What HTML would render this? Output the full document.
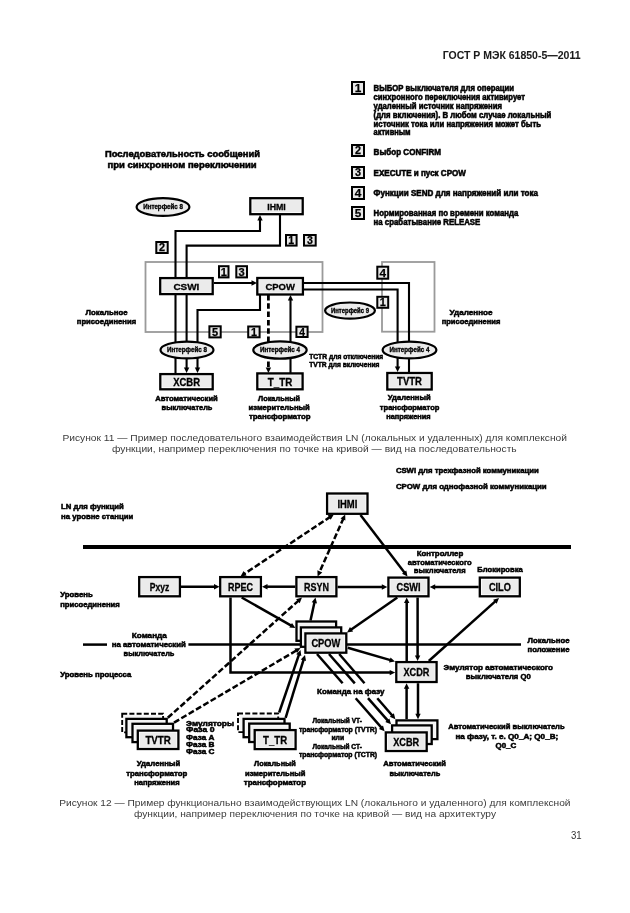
<!DOCTYPE html>
<html><head><meta charset="utf-8"><style>
html,body{margin:0;padding:0;background:#fff;width:630px;height:913px;overflow:hidden}
svg{display:block;font-family:"Liberation Sans",sans-serif;will-change:transform}
</style></head><body>
<svg width="630" height="913" viewBox="0 0 630 913">
<text x="442.7" y="59.0" font-size="11" font-weight="bold" textLength="137.8" lengthAdjust="spacingAndGlyphs" fill="#1a1a1a" stroke="#000" stroke-width="0.05">ГОСТ Р МЭК 61850-5—2011</text>
<rect x="352.0" y="82.0" width="12.0" height="12.0" fill="#e8e8e8" stroke="#000" stroke-width="2.0"/>
<text x="358.0" y="92.2" font-size="11.8" font-weight="bold" text-anchor="middle" stroke="#000" stroke-width="0.25">1</text>
<text x="373.6" y="91.0" font-size="8.5" font-weight="bold" textLength="140.4" lengthAdjust="spacingAndGlyphs" fill="#000" stroke="#000" stroke-width="0.55">ВЫБОР выключателя для операции</text>
<text x="373.6" y="99.9" font-size="8.5" font-weight="bold" textLength="151.4" lengthAdjust="spacingAndGlyphs" fill="#000" stroke="#000" stroke-width="0.55">синхронного переключения активирует</text>
<text x="373.6" y="108.8" font-size="8.5" font-weight="bold" textLength="128.4" lengthAdjust="spacingAndGlyphs" fill="#000" stroke="#000" stroke-width="0.55">удаленный источник напряжения</text>
<text x="373.6" y="117.6" font-size="8.5" font-weight="bold" textLength="177.7" lengthAdjust="spacingAndGlyphs" fill="#000" stroke="#000" stroke-width="0.55">(для включения). В любом случае локальный</text>
<text x="373.6" y="126.5" font-size="8.5" font-weight="bold" textLength="167.4" lengthAdjust="spacingAndGlyphs" fill="#000" stroke="#000" stroke-width="0.55">источник тока или напряжения может быть</text>
<text x="373.6" y="135.4" font-size="8.5" font-weight="bold" textLength="37.0" lengthAdjust="spacingAndGlyphs" fill="#000" stroke="#000" stroke-width="0.55">активным</text>
<rect x="352.0" y="145.0" width="12.0" height="11.0" fill="#e8e8e8" stroke="#000" stroke-width="2.0"/>
<text x="358.0" y="154.4" font-size="10.9" font-weight="bold" text-anchor="middle" stroke="#000" stroke-width="0.25">2</text>
<text x="373.6" y="154.5" font-size="8.5" font-weight="bold" textLength="67.4" lengthAdjust="spacingAndGlyphs" fill="#000" stroke="#000" stroke-width="0.55">Выбор CONFIRM</text>
<rect x="352.0" y="167.0" width="12.0" height="11.0" fill="#e8e8e8" stroke="#000" stroke-width="2.0"/>
<text x="358.0" y="176.4" font-size="10.9" font-weight="bold" text-anchor="middle" stroke="#000" stroke-width="0.25">3</text>
<text x="373.6" y="175.5" font-size="8.5" font-weight="bold" textLength="92.3" lengthAdjust="spacingAndGlyphs" fill="#000" stroke="#000" stroke-width="0.55">EXECUTE и пуск CPOW</text>
<rect x="352.0" y="187.0" width="12.0" height="12.0" fill="#e8e8e8" stroke="#000" stroke-width="2.0"/>
<text x="358.0" y="197.2" font-size="11.8" font-weight="bold" text-anchor="middle" stroke="#000" stroke-width="0.25">4</text>
<text x="373.6" y="196.0" font-size="8.5" font-weight="bold" textLength="164.4" lengthAdjust="spacingAndGlyphs" fill="#000" stroke="#000" stroke-width="0.55">Функции SEND для напряжений или тока</text>
<rect x="352.0" y="207.0" width="12.0" height="12.0" fill="#e8e8e8" stroke="#000" stroke-width="2.0"/>
<text x="358.0" y="217.2" font-size="11.8" font-weight="bold" text-anchor="middle" stroke="#000" stroke-width="0.25">5</text>
<text x="373.6" y="215.5" font-size="8.5" font-weight="bold" textLength="144.7" lengthAdjust="spacingAndGlyphs" fill="#000" stroke="#000" stroke-width="0.55">Нормированная по времени команда</text>
<text x="373.6" y="225.0" font-size="8.5" font-weight="bold" textLength="106.7" lengthAdjust="spacingAndGlyphs" fill="#000" stroke="#000" stroke-width="0.55">на срабатывание RELEASE</text>
<text x="105.0" y="157.0" font-size="9.5" font-weight="bold" textLength="155.0" lengthAdjust="spacingAndGlyphs" fill="#000" stroke="#000" stroke-width="0.55">Последовательность сообщений</text>
<text x="107.5" y="168.0" font-size="9.5" font-weight="bold" textLength="149.2" lengthAdjust="spacingAndGlyphs" fill="#000" stroke="#000" stroke-width="0.55">при синхронном переключении</text>
<rect x="145.5" y="262" width="177" height="70" fill="none" stroke="#9a9a9a" stroke-width="1.8"/>
<rect x="382" y="262" width="52.5" height="69.7" fill="none" stroke="#9a9a9a" stroke-width="1.8"/>
<polyline points="175.5,277.0 175.5,231.0 260.0,231.0 260.0,218.8" fill="none" stroke="#000" stroke-width="2.1" stroke-linejoin="miter" stroke-linecap="butt"/>
<polygon points="260.0,215.0 262.7,220.5 257.3,220.5" fill="#000"/>
<polyline points="175.5,295.0 175.5,373.0" fill="none" stroke="#000" stroke-width="2.1" stroke-linejoin="miter" stroke-linecap="butt"/>
<polyline points="280.0,215.0 280.0,245.6 186.6,245.6 186.6,277.0" fill="none" stroke="#000" stroke-width="2.1" stroke-linejoin="miter" stroke-linecap="butt"/>
<polyline points="186.6,295.0 186.6,369.1" fill="none" stroke="#000" stroke-width="2.1" stroke-linejoin="miter" stroke-linecap="butt"/>
<polygon points="186.6,373.0 183.9,367.5 189.3,367.5" fill="#000"/>
<polyline points="214.0,283.0 253.2,283.0" fill="none" stroke="#000" stroke-width="2.1" stroke-linejoin="miter" stroke-linecap="butt"/>
<polygon points="257.0,283.0 251.5,285.7 251.5,280.3" fill="#000"/>
<polyline points="260.0,295.0 260.0,310.0 197.5,310.0 197.5,369.1" fill="none" stroke="#000" stroke-width="2.1" stroke-linejoin="miter" stroke-linecap="butt"/>
<polygon points="197.5,373.0 194.8,367.5 200.2,367.5" fill="#000"/>
<polyline points="268.4,295.0 268.4,369.1" fill="none" stroke="#000" stroke-width="2.8" stroke-dasharray="5.5,2.8" stroke-linejoin="miter" stroke-linecap="butt"/>
<polygon points="268.4,373.0 265.7,367.5 271.1,367.5" fill="#000"/>
<polyline points="290.5,373.0 290.5,298.9" fill="none" stroke="#000" stroke-width="2.1" stroke-linejoin="miter" stroke-linecap="butt"/>
<polygon points="290.5,295.0 293.2,300.5 287.8,300.5" fill="#000"/>
<polyline points="303.0,283.0 409.0,283.0 409.0,372.0" fill="none" stroke="#000" stroke-width="2.1" stroke-linejoin="miter" stroke-linecap="butt"/>
<polyline points="303.0,289.5 397.6,289.5 397.6,368.1" fill="none" stroke="#000" stroke-width="2.1" stroke-linejoin="miter" stroke-linecap="butt"/>
<polygon points="397.6,372.0 394.9,366.5 400.3,366.5" fill="#000"/>
<ellipse cx="163" cy="207" rx="26.4" ry="8.9" fill="#ececec" stroke="#000" stroke-width="2.2"/>
<text x="143.2" y="209.4" font-size="6.8" font-weight="bold" textLength="39.7" lengthAdjust="spacingAndGlyphs" stroke="#000" stroke-width="0.35">Интерфейс 8</text>
<ellipse cx="187" cy="350" rx="26.5" ry="8.4" fill="#ececec" stroke="#000" stroke-width="2.2"/>
<text x="167.0" y="352.4" font-size="6.8" font-weight="bold" textLength="40.0" lengthAdjust="spacingAndGlyphs" stroke="#000" stroke-width="0.35">Интерфейс 8</text>
<ellipse cx="280" cy="350" rx="26.7" ry="8.6" fill="#ececec" stroke="#000" stroke-width="2.2"/>
<text x="260.0" y="352.4" font-size="6.8" font-weight="bold" textLength="40.0" lengthAdjust="spacingAndGlyphs" stroke="#000" stroke-width="0.35">Интерфейс 4</text>
<ellipse cx="350" cy="310.6" rx="24.9" ry="8.1" fill="#ececec" stroke="#000" stroke-width="2.2"/>
<text x="331.0" y="313.0" font-size="6.8" font-weight="bold" textLength="38.0" lengthAdjust="spacingAndGlyphs" stroke="#000" stroke-width="0.35">Интерфейс 9</text>
<ellipse cx="409.5" cy="350" rx="26.9" ry="8.4" fill="#ececec" stroke="#000" stroke-width="2.2"/>
<text x="389.5" y="352.4" font-size="6.8" font-weight="bold" textLength="40.0" lengthAdjust="spacingAndGlyphs" stroke="#000" stroke-width="0.35">Интерфейс 4</text>
<rect x="250.3" y="198.2" width="52.4" height="16.0" fill="#fff" stroke="#000" stroke-width="2.3"/>
<rect x="252.3" y="200.1" width="48.5" height="12.1" fill="#ebebeb"/>
<text x="267.2" y="209.6" font-size="9.5" font-weight="bold" textLength="18.6" lengthAdjust="spacingAndGlyphs" stroke="#000" stroke-width="0.3">IHMI</text>
<rect x="160.2" y="278.1" width="52.5" height="16.0" fill="#fff" stroke="#000" stroke-width="2.3"/>
<rect x="162.1" y="280.1" width="48.6" height="12.1" fill="#ebebeb"/>
<text x="173.4" y="290.2" font-size="9.8" font-weight="bold" textLength="26.0" lengthAdjust="spacingAndGlyphs" stroke="#000" stroke-width="0.3">CSWI</text>
<rect x="257.3" y="278.0" width="45.6" height="16.5" fill="#fff" stroke="#000" stroke-width="2.3"/>
<rect x="259.3" y="280.0" width="41.7" height="12.6" fill="#ebebeb"/>
<text x="265.4" y="289.5" font-size="9.8" font-weight="bold" textLength="29.5" lengthAdjust="spacingAndGlyphs" stroke="#000" stroke-width="0.3">CPOW</text>
<rect x="160.3" y="374.1" width="52.4" height="15.2" fill="#fff" stroke="#000" stroke-width="2.3"/>
<rect x="162.3" y="376.1" width="48.5" height="11.3" fill="#ebebeb"/>
<text x="173.2" y="385.5" font-size="10.5" font-weight="bold" textLength="26.8" lengthAdjust="spacingAndGlyphs" stroke="#000" stroke-width="0.3">XCBR</text>
<rect x="257.3" y="373.4" width="45.3" height="15.9" fill="#fff" stroke="#000" stroke-width="2.3"/>
<rect x="259.3" y="375.4" width="41.4" height="12.0" fill="#ebebeb"/>
<text x="267.8" y="386.2" font-size="10.5" font-weight="bold" textLength="24.4" lengthAdjust="spacingAndGlyphs" stroke="#000" stroke-width="0.3">T_TR</text>
<rect x="387.3" y="373.0" width="44.4" height="16.5" fill="#fff" stroke="#000" stroke-width="2.3"/>
<rect x="389.3" y="375.0" width="40.5" height="12.6" fill="#ebebeb"/>
<text x="397.1" y="385.2" font-size="10.8" font-weight="bold" textLength="24.8" lengthAdjust="spacingAndGlyphs" stroke="#000" stroke-width="0.3">TVTR</text>
<rect x="156.3" y="242.0" width="11.4" height="11.0" fill="#e8e8e8" stroke="#000" stroke-width="2.0"/>
<text x="162.0" y="251.4" font-size="10.9" font-weight="bold" text-anchor="middle" stroke="#000" stroke-width="0.25">2</text>
<rect x="286.0" y="235.0" width="10.6" height="10.6" fill="#e8e8e8" stroke="#000" stroke-width="2.0"/>
<text x="291.3" y="244.1" font-size="10.6" font-weight="bold" text-anchor="middle" stroke="#000" stroke-width="0.25">1</text>
<rect x="304.0" y="235.0" width="11.7" height="10.6" fill="#e8e8e8" stroke="#000" stroke-width="2.0"/>
<text x="309.9" y="244.1" font-size="10.6" font-weight="bold" text-anchor="middle" stroke="#000" stroke-width="0.25">3</text>
<rect x="219.0" y="266.2" width="9.5" height="11.2" fill="#e8e8e8" stroke="#000" stroke-width="2.0"/>
<text x="223.8" y="275.8" font-size="11.1" font-weight="bold" text-anchor="middle" stroke="#000" stroke-width="0.25">1</text>
<rect x="236.3" y="266.2" width="10.7" height="11.2" fill="#e8e8e8" stroke="#000" stroke-width="2.0"/>
<text x="241.7" y="275.8" font-size="11.1" font-weight="bold" text-anchor="middle" stroke="#000" stroke-width="0.25">3</text>
<rect x="209.4" y="326.3" width="11.3" height="11.1" fill="#e8e8e8" stroke="#000" stroke-width="2.0"/>
<text x="215.1" y="335.8" font-size="11.0" font-weight="bold" text-anchor="middle" stroke="#000" stroke-width="0.25">5</text>
<rect x="248.2" y="326.5" width="11.4" height="10.8" fill="#e8e8e8" stroke="#000" stroke-width="2.0"/>
<text x="253.9" y="335.8" font-size="10.8" font-weight="bold" text-anchor="middle" stroke="#000" stroke-width="0.25">1</text>
<rect x="296.4" y="326.7" width="11.2" height="10.3" fill="#e8e8e8" stroke="#000" stroke-width="2.0"/>
<text x="302.0" y="335.6" font-size="10.3" font-weight="bold" text-anchor="middle" stroke="#000" stroke-width="0.25">4</text>
<rect x="377.3" y="266.7" width="10.9" height="12.0" fill="#e8e8e8" stroke="#000" stroke-width="2.0"/>
<text x="382.8" y="276.9" font-size="11.8" font-weight="bold" text-anchor="middle" stroke="#000" stroke-width="0.25">4</text>
<rect x="377.3" y="296.8" width="10.9" height="11.0" fill="#e8e8e8" stroke="#000" stroke-width="2.0"/>
<text x="382.8" y="306.2" font-size="10.9" font-weight="bold" text-anchor="middle" stroke="#000" stroke-width="0.25">1</text>
<text x="85.5" y="314.6" font-size="8" font-weight="bold" textLength="42.0" lengthAdjust="spacingAndGlyphs" fill="#000" stroke="#000" stroke-width="0.55">Локальное</text>
<text x="76.8" y="324.0" font-size="8" font-weight="bold" textLength="59.3" lengthAdjust="spacingAndGlyphs" fill="#000" stroke="#000" stroke-width="0.55">присоединения</text>
<text x="449.5" y="314.6" font-size="8" font-weight="bold" textLength="43.0" lengthAdjust="spacingAndGlyphs" fill="#000" stroke="#000" stroke-width="0.55">Удаленное</text>
<text x="441.7" y="324.0" font-size="8" font-weight="bold" textLength="58.6" lengthAdjust="spacingAndGlyphs" fill="#000" stroke="#000" stroke-width="0.55">присоединения</text>
<text x="155.2" y="400.9" font-size="8" font-weight="bold" textLength="62.6" lengthAdjust="spacingAndGlyphs" fill="#000" stroke="#000" stroke-width="0.55">Автоматический</text>
<text x="161.6" y="409.8" font-size="8" font-weight="bold" textLength="50.8" lengthAdjust="spacingAndGlyphs" fill="#000" stroke="#000" stroke-width="0.55">выключатель</text>
<text x="258.0" y="400.9" font-size="8" font-weight="bold" textLength="42.0" lengthAdjust="spacingAndGlyphs" fill="#000" stroke="#000" stroke-width="0.55">Локальный</text>
<text x="248.6" y="409.8" font-size="8" font-weight="bold" textLength="61.2" lengthAdjust="spacingAndGlyphs" fill="#000" stroke="#000" stroke-width="0.55">измерительный</text>
<text x="249.0" y="418.6" font-size="8" font-weight="bold" textLength="61.5" lengthAdjust="spacingAndGlyphs" fill="#000" stroke="#000" stroke-width="0.55">трансформатор</text>
<text x="387.8" y="400.4" font-size="8" font-weight="bold" textLength="42.8" lengthAdjust="spacingAndGlyphs" fill="#000" stroke="#000" stroke-width="0.55">Удаленный</text>
<text x="379.8" y="409.6" font-size="8" font-weight="bold" textLength="59.6" lengthAdjust="spacingAndGlyphs" fill="#000" stroke="#000" stroke-width="0.55">трансформатор</text>
<text x="386.2" y="418.6" font-size="8" font-weight="bold" textLength="44.4" lengthAdjust="spacingAndGlyphs" fill="#000" stroke="#000" stroke-width="0.55">напряжения</text>
<text x="309.2" y="359.0" font-size="8" font-weight="bold" textLength="74.1" lengthAdjust="spacingAndGlyphs" fill="#000" stroke="#000" stroke-width="0.55">TCTR для отключения</text>
<text x="309.2" y="367.4" font-size="8" font-weight="bold" textLength="70.2" lengthAdjust="spacingAndGlyphs" fill="#000" stroke="#000" stroke-width="0.55">TVTR для включения</text>
<text x="62.5" y="441.0" font-size="9.4" font-weight="normal" textLength="504.5" lengthAdjust="spacingAndGlyphs" fill="#3a3a3a">Рисунок 11 — Пример последовательного взаимодействия LN (локальных и удаленных) для комплексной</text>
<text x="112.0" y="452.2" font-size="9.4" font-weight="normal" textLength="404.7" lengthAdjust="spacingAndGlyphs" fill="#3a3a3a">функции, например переключения по точке на кривой — вид на последовательность</text>
<text x="395.9" y="472.8" font-size="8" font-weight="bold" textLength="142.8" lengthAdjust="spacingAndGlyphs" fill="#000" stroke="#000" stroke-width="0.55">CSWI для трехфазной коммуникации</text>
<text x="395.9" y="489.3" font-size="8" font-weight="bold" textLength="150.8" lengthAdjust="spacingAndGlyphs" fill="#000" stroke="#000" stroke-width="0.55">CPOW для однофазной коммуникации</text>
<text x="61.1" y="508.5" font-size="8" font-weight="bold" textLength="62.6" lengthAdjust="spacingAndGlyphs" fill="#000" stroke="#000" stroke-width="0.55">LN для функций</text>
<text x="61.1" y="518.6" font-size="8" font-weight="bold" textLength="72.1" lengthAdjust="spacingAndGlyphs" fill="#000" stroke="#000" stroke-width="0.55">на уровне станции</text>
<rect x="83" y="545" width="488" height="4" fill="#000"/>
<polyline points="181.0,586.7 215.7,586.7" fill="none" stroke="#000" stroke-width="2.5" stroke-linejoin="miter" stroke-linecap="butt"/>
<polygon points="219.5,586.7 214.0,589.4 214.0,584.0" fill="#000"/>
<polyline points="295.3,586.7 265.9,586.7" fill="none" stroke="#000" stroke-width="2.5" stroke-linejoin="miter" stroke-linecap="butt"/>
<polygon points="262.0,586.7 267.5,584.0 267.5,589.4" fill="#000"/>
<polyline points="337.6,587.0 383.4,587.0" fill="none" stroke="#000" stroke-width="2.5" stroke-linejoin="miter" stroke-linecap="butt"/>
<polygon points="387.3,587.0 381.8,589.7 381.8,584.3" fill="#000"/>
<polyline points="478.7,587.0 433.6,587.0" fill="none" stroke="#000" stroke-width="2.5" stroke-linejoin="miter" stroke-linecap="butt"/>
<polygon points="429.7,587.0 435.2,584.3 435.2,589.7" fill="#000"/>
<polyline points="360.5,515.0 405.2,573.4" fill="none" stroke="#000" stroke-width="2.5" stroke-linejoin="miter" stroke-linecap="butt"/>
<polygon points="407.5,576.5 402.0,573.8 406.3,570.5" fill="#000"/>
<polyline points="330.6,516.6 243.7,574.3" fill="none" stroke="#000" stroke-width="2.5" stroke-dasharray="6,2.5" stroke-linejoin="miter" stroke-linecap="butt"/>
<polygon points="240.5,576.4 243.6,571.1 246.6,575.6" fill="#000"/>
<polygon points="333.8,514.5 330.7,519.8 327.7,515.3" fill="#000"/>
<polyline points="343.6,518.0 319.2,572.9" fill="none" stroke="#000" stroke-width="2.5" stroke-dasharray="6,2.5" stroke-linejoin="miter" stroke-linecap="butt"/>
<polygon points="317.6,576.4 317.4,570.3 322.3,572.5" fill="#000"/>
<polygon points="345.2,514.5 345.4,520.6 340.5,518.4" fill="#000"/>
<polyline points="230.5,597.5 230.5,672.6 391.3,672.6" fill="none" stroke="#000" stroke-width="2.5" stroke-linejoin="miter" stroke-linecap="butt"/>
<polygon points="395.2,672.6 389.7,675.3 389.7,669.9" fill="#000"/>
<polyline points="241.7,597.5 292.1,626.1" fill="none" stroke="#000" stroke-width="2.5" stroke-linejoin="miter" stroke-linecap="butt"/>
<polygon points="295.4,628.0 289.3,627.6 292.0,622.9" fill="#000"/>
<polyline points="310.5,620.4 314.7,601.3" fill="none" stroke="#000" stroke-width="2.5" stroke-linejoin="miter" stroke-linecap="butt"/>
<polygon points="315.5,597.5 317.0,603.4 311.7,602.3" fill="#000"/>
<polyline points="397.3,597.5 350.2,630.3" fill="none" stroke="#000" stroke-width="2.5" stroke-linejoin="miter" stroke-linecap="butt"/>
<polygon points="347.0,632.5 350.0,627.1 353.1,631.6" fill="#000"/>
<polyline points="406.7,661.0 406.7,601.4" fill="none" stroke="#000" stroke-width="2.5" stroke-linejoin="miter" stroke-linecap="butt"/>
<polygon points="406.7,597.5 409.4,603.0 404.0,603.0" fill="#000"/>
<polyline points="417.6,597.5 417.6,657.1" fill="none" stroke="#000" stroke-width="2.5" stroke-linejoin="miter" stroke-linecap="butt"/>
<polygon points="417.6,661.0 414.9,655.5 420.3,655.5" fill="#000"/>
<polyline points="428.8,661.0 496.1,600.6" fill="none" stroke="#000" stroke-width="2.5" stroke-linejoin="miter" stroke-linecap="butt"/>
<polygon points="499.0,598.0 496.7,603.7 493.1,599.7" fill="#000"/>
<polyline points="83.0,644.6 107.0,644.6" fill="none" stroke="#000" stroke-width="2.5" stroke-linejoin="miter" stroke-linecap="butt"/>
<polyline points="188.4,644.6 521.0,644.6" fill="none" stroke="#000" stroke-width="2.5" stroke-linejoin="miter" stroke-linecap="butt"/>
<polyline points="347.8,647.8 391.3,660.4" fill="none" stroke="#000" stroke-width="2.5" stroke-linejoin="miter" stroke-linecap="butt"/>
<polygon points="395.0,661.5 389.0,662.6 390.5,657.4" fill="#000"/>
<polyline points="406.6,719.2 406.6,687.1" fill="none" stroke="#000" stroke-width="2.5" stroke-linejoin="miter" stroke-linecap="butt"/>
<polygon points="406.6,683.2 409.3,688.7 403.9,688.7" fill="#000"/>
<polyline points="418.0,683.2 418.0,715.4" fill="none" stroke="#000" stroke-width="2.5" stroke-linejoin="miter" stroke-linecap="butt"/>
<polygon points="418.0,719.2 415.3,713.7 420.7,713.7" fill="#000"/>
<polyline points="167.8,717.8 299.1,600.1" fill="none" stroke="#000" stroke-width="2.5" stroke-dasharray="6,2.5" stroke-linejoin="miter" stroke-linecap="butt"/>
<polygon points="302.0,597.5 299.7,603.2 296.1,599.2" fill="#000"/>
<polyline points="174.0,722.6 297.2,650.0" fill="none" stroke="#000" stroke-width="2.5" stroke-dasharray="6,2.5" stroke-linejoin="miter" stroke-linecap="butt"/>
<polygon points="300.5,648.0 297.1,653.1 294.4,648.5" fill="#000"/>
<polyline points="279.2,712.5 299.3,653.6" fill="none" stroke="#000" stroke-width="2.5" stroke-linejoin="miter" stroke-linecap="butt"/>
<polygon points="300.5,650.0 301.3,656.1 296.2,654.3" fill="#000"/>
<polyline points="285.6,717.8 303.9,658.7" fill="none" stroke="#000" stroke-width="2.5" stroke-linejoin="miter" stroke-linecap="butt"/>
<polygon points="305.0,655.0 306.0,661.1 300.8,659.5" fill="#000"/>
<polyline points="317.0,654.0 342.6,683.3" fill="none" stroke="#000" stroke-width="2.5" stroke-linejoin="miter" stroke-linecap="butt"/>
<polyline points="355.7,698.2 382.1,728.4" fill="none" stroke="#000" stroke-width="2.5" stroke-linejoin="miter" stroke-linecap="butt"/>
<polygon points="384.6,731.3 378.9,728.9 383.0,725.4" fill="#000"/>
<polyline points="329.0,654.0 354.8,683.3" fill="none" stroke="#000" stroke-width="2.5" stroke-linejoin="miter" stroke-linecap="butt"/>
<polyline points="368.0,698.2 388.5,721.4" fill="none" stroke="#000" stroke-width="2.5" stroke-linejoin="miter" stroke-linecap="butt"/>
<polygon points="391.0,724.3 385.3,722.0 389.4,718.4" fill="#000"/>
<polyline points="339.2,654.0 364.5,683.3" fill="none" stroke="#000" stroke-width="2.5" stroke-linejoin="miter" stroke-linecap="butt"/>
<polyline points="377.3,698.2 392.9,716.3" fill="none" stroke="#000" stroke-width="2.5" stroke-linejoin="miter" stroke-linecap="butt"/>
<polygon points="395.4,719.2 389.8,716.8 393.9,713.3" fill="#000"/>
<rect x="327.1" y="493.5" width="40.4" height="20.3" fill="#fff" stroke="#000" stroke-width="2.3"/>
<rect x="329.1" y="495.5" width="36.5" height="16.4" fill="#ebebeb"/>
<text x="337.4" y="507.6" font-size="10.8" font-weight="bold" textLength="20.0" lengthAdjust="spacingAndGlyphs" stroke="#000" stroke-width="0.3">IHMI</text>
<rect x="139.2" y="577.1" width="40.7" height="19.2" fill="#fff" stroke="#000" stroke-width="2.3"/>
<rect x="141.1" y="579.1" width="36.8" height="15.3" fill="#ebebeb"/>
<text x="149.8" y="590.6" font-size="10.8" font-weight="bold" textLength="19.5" lengthAdjust="spacingAndGlyphs" stroke="#000" stroke-width="0.3">Pxyz</text>
<rect x="220.2" y="577.1" width="40.7" height="19.2" fill="#fff" stroke="#000" stroke-width="2.3"/>
<rect x="222.1" y="579.1" width="36.8" height="15.3" fill="#ebebeb"/>
<text x="228.0" y="590.6" font-size="10.8" font-weight="bold" textLength="25.0" lengthAdjust="spacingAndGlyphs" stroke="#000" stroke-width="0.3">RPEC</text>
<rect x="296.4" y="577.1" width="40.0" height="19.2" fill="#fff" stroke="#000" stroke-width="2.3"/>
<rect x="298.4" y="579.1" width="36.1" height="15.3" fill="#ebebeb"/>
<text x="304.0" y="590.6" font-size="10.8" font-weight="bold" textLength="25.0" lengthAdjust="spacingAndGlyphs" stroke="#000" stroke-width="0.3">RSYN</text>
<rect x="388.4" y="577.6" width="40.1" height="18.7" fill="#fff" stroke="#000" stroke-width="2.3"/>
<rect x="390.4" y="579.6" width="36.2" height="14.8" fill="#ebebeb"/>
<text x="396.5" y="590.9" font-size="10.8" font-weight="bold" textLength="24.0" lengthAdjust="spacingAndGlyphs" stroke="#000" stroke-width="0.3">CSWI</text>
<rect x="479.8" y="577.6" width="40.0" height="18.7" fill="#fff" stroke="#000" stroke-width="2.3"/>
<rect x="481.8" y="579.6" width="36.1" height="14.8" fill="#ebebeb"/>
<text x="488.9" y="590.9" font-size="10.8" font-weight="bold" textLength="22.0" lengthAdjust="spacingAndGlyphs" stroke="#000" stroke-width="0.3">CILO</text>
<rect x="296.5" y="621.5" width="39.6" height="19.3" fill="#fff" stroke="#000" stroke-width="2.3"/>
<rect x="298.5" y="623.5" width="35.7" height="15.4" fill="#f4f4f4"/>
<rect x="300.9" y="627.4" width="40.3" height="19.4" fill="#fff" stroke="#000" stroke-width="2.3"/>
<rect x="302.9" y="629.4" width="36.4" height="15.5" fill="#f4f4f4"/>
<rect x="305.4" y="633.4" width="40.9" height="19.3" fill="#fff" stroke="#000" stroke-width="2.3"/>
<rect x="307.4" y="635.3" width="37.0" height="15.4" fill="#ebebeb"/>
<text x="311.4" y="646.9" font-size="10.8" font-weight="bold" textLength="29.0" lengthAdjust="spacingAndGlyphs" stroke="#000" stroke-width="0.3">CPOW</text>
<rect x="396.3" y="662.1" width="40.3" height="19.9" fill="#fff" stroke="#000" stroke-width="2.3"/>
<rect x="398.3" y="664.1" width="36.4" height="16.0" fill="#ebebeb"/>
<text x="403.5" y="676.0" font-size="10.8" font-weight="bold" textLength="26.0" lengthAdjust="spacingAndGlyphs" stroke="#000" stroke-width="0.3">XCDR</text>
<rect x="122.2" y="713.7" width="40.9" height="18.7" fill="#fff" stroke="#000" stroke-width="1.9" stroke-dasharray="5,2.2"/>
<rect x="123.9" y="715.4" width="37.4" height="15.2" fill="#f4f4f4"/>
<rect x="126.4" y="718.9" width="40.3" height="18.3" fill="#fff" stroke="#000" stroke-width="2.3"/>
<rect x="128.3" y="720.9" width="36.4" height="14.4" fill="#f4f4f4"/>
<rect x="132.5" y="723.8" width="40.5" height="18.3" fill="#fff" stroke="#000" stroke-width="2.3"/>
<rect x="134.4" y="725.7" width="36.6" height="14.4" fill="#f4f4f4"/>
<rect x="137.8" y="730.6" width="40.6" height="18.4" fill="#fff" stroke="#000" stroke-width="2.3"/>
<rect x="139.8" y="732.6" width="36.7" height="14.5" fill="#ebebeb"/>
<text x="145.4" y="743.7" font-size="10.8" font-weight="bold" textLength="25.5" lengthAdjust="spacingAndGlyphs" stroke="#000" stroke-width="0.3">TVTR</text>
<rect x="238.0" y="713.5" width="40.2" height="18.6" fill="#fff" stroke="#000" stroke-width="1.9" stroke-dasharray="5,2.2"/>
<rect x="239.8" y="715.2" width="36.7" height="15.1" fill="#f4f4f4"/>
<rect x="243.6" y="718.9" width="40.9" height="18.3" fill="#fff" stroke="#000" stroke-width="2.3"/>
<rect x="245.5" y="720.9" width="37.0" height="14.4" fill="#f4f4f4"/>
<rect x="249.2" y="723.6" width="40.5" height="18.4" fill="#fff" stroke="#000" stroke-width="2.3"/>
<rect x="251.1" y="725.6" width="36.6" height="14.5" fill="#f4f4f4"/>
<rect x="254.7" y="730.1" width="40.9" height="19.0" fill="#fff" stroke="#000" stroke-width="2.3"/>
<rect x="256.6" y="732.1" width="37.0" height="15.1" fill="#ebebeb"/>
<text x="263.1" y="743.5" font-size="10.8" font-weight="bold" textLength="24.0" lengthAdjust="spacingAndGlyphs" stroke="#000" stroke-width="0.3">T_TR</text>
<rect x="396.5" y="720.4" width="40.9" height="18.7" fill="#fff" stroke="#000" stroke-width="2.3"/>
<rect x="398.5" y="722.3" width="37.0" height="14.8" fill="#f4f4f4"/>
<rect x="392.1" y="725.4" width="39.6" height="18.6" fill="#fff" stroke="#000" stroke-width="2.3"/>
<rect x="394.1" y="727.4" width="35.7" height="14.7" fill="#f4f4f4"/>
<rect x="385.8" y="732.4" width="40.9" height="18.6" fill="#fff" stroke="#000" stroke-width="2.3"/>
<rect x="387.7" y="734.4" width="37.0" height="14.7" fill="#ebebeb"/>
<text x="393.2" y="745.6" font-size="10.8" font-weight="bold" textLength="26.0" lengthAdjust="spacingAndGlyphs" stroke="#000" stroke-width="0.3">XCBR</text>
<text x="60.2" y="597.1" font-size="8" font-weight="bold" textLength="32.5" lengthAdjust="spacingAndGlyphs" fill="#000" stroke="#000" stroke-width="0.55">Уровень</text>
<text x="60.2" y="606.7" font-size="8" font-weight="bold" textLength="59.6" lengthAdjust="spacingAndGlyphs" fill="#000" stroke="#000" stroke-width="0.55">присоединения</text>
<text x="416.7" y="556.4" font-size="8" font-weight="bold" textLength="46.6" lengthAdjust="spacingAndGlyphs" fill="#000" stroke="#000" stroke-width="0.55">Контроллер</text>
<text x="407.8" y="564.8" font-size="8" font-weight="bold" textLength="63.8" lengthAdjust="spacingAndGlyphs" fill="#000" stroke="#000" stroke-width="0.55">автоматического</text>
<text x="413.8" y="573.3" font-size="8" font-weight="bold" textLength="51.8" lengthAdjust="spacingAndGlyphs" fill="#000" stroke="#000" stroke-width="0.55">выключателя</text>
<text x="477.3" y="571.5" font-size="8" font-weight="bold" textLength="45.4" lengthAdjust="spacingAndGlyphs" fill="#000" stroke="#000" stroke-width="0.55">Блокировка</text>
<text x="131.8" y="637.8" font-size="8" font-weight="bold" textLength="35.0" lengthAdjust="spacingAndGlyphs" fill="#000" stroke="#000" stroke-width="0.55">Команда</text>
<text x="111.7" y="647.2" font-size="8" font-weight="bold" textLength="74.2" lengthAdjust="spacingAndGlyphs" fill="#000" stroke="#000" stroke-width="0.55">на автоматический</text>
<text x="123.6" y="655.6" font-size="8" font-weight="bold" textLength="50.8" lengthAdjust="spacingAndGlyphs" fill="#000" stroke="#000" stroke-width="0.55">выключатель</text>
<text x="60.2" y="676.7" font-size="8" font-weight="bold" textLength="71.1" lengthAdjust="spacingAndGlyphs" fill="#000" stroke="#000" stroke-width="0.55">Уровень процесса</text>
<text x="527.6" y="642.9" font-size="8" font-weight="bold" textLength="41.9" lengthAdjust="spacingAndGlyphs" fill="#000" stroke="#000" stroke-width="0.55">Локальное</text>
<text x="527.6" y="652.4" font-size="8" font-weight="bold" textLength="41.9" lengthAdjust="spacingAndGlyphs" fill="#000" stroke="#000" stroke-width="0.55">положение</text>
<text x="443.5" y="670.2" font-size="8" font-weight="bold" textLength="109.5" lengthAdjust="spacingAndGlyphs" fill="#000" stroke="#000" stroke-width="0.55">Эмулятор автоматического</text>
<text x="465.7" y="679.4" font-size="8" font-weight="bold" textLength="65.1" lengthAdjust="spacingAndGlyphs" fill="#000" stroke="#000" stroke-width="0.55">выключателя Q0</text>
<text x="317.1" y="693.6" font-size="8" font-weight="bold" textLength="67.3" lengthAdjust="spacingAndGlyphs" fill="#000" stroke="#000" stroke-width="0.55">Команда на фазу</text>
<text x="186.1" y="725.5" font-size="8" font-weight="bold" textLength="47.9" lengthAdjust="spacingAndGlyphs" fill="#000" stroke="#000" stroke-width="0.55">Эмуляторы</text>
<text x="186.1" y="732.4" font-size="8" font-weight="bold" textLength="28.4" lengthAdjust="spacingAndGlyphs" fill="#000" stroke="#000" stroke-width="0.55">Фаза 0</text>
<text x="186.1" y="740.1" font-size="8" font-weight="bold" textLength="28.4" lengthAdjust="spacingAndGlyphs" fill="#000" stroke="#000" stroke-width="0.55">Фаза A</text>
<text x="186.1" y="747.0" font-size="8" font-weight="bold" textLength="28.4" lengthAdjust="spacingAndGlyphs" fill="#000" stroke="#000" stroke-width="0.55">Фаза B</text>
<text x="186.1" y="754.4" font-size="8" font-weight="bold" textLength="28.4" lengthAdjust="spacingAndGlyphs" fill="#000" stroke="#000" stroke-width="0.55">Фаза C</text>
<text x="312.4" y="722.9" font-size="8" font-weight="bold" textLength="49.5" lengthAdjust="spacingAndGlyphs" fill="#000" stroke="#000" stroke-width="0.55">Локальный VT-</text>
<text x="298.9" y="731.8" font-size="8" font-weight="bold" textLength="78.2" lengthAdjust="spacingAndGlyphs" fill="#000" stroke="#000" stroke-width="0.55">трансформатор (TVTR)</text>
<text x="331.4" y="740.3" font-size="8" font-weight="bold" textLength="12.7" lengthAdjust="spacingAndGlyphs" fill="#000" stroke="#000" stroke-width="0.55">или</text>
<text x="312.4" y="748.8" font-size="8" font-weight="bold" textLength="49.5" lengthAdjust="spacingAndGlyphs" fill="#000" stroke="#000" stroke-width="0.55">Локальный CT-</text>
<text x="298.9" y="757.2" font-size="8" font-weight="bold" textLength="78.2" lengthAdjust="spacingAndGlyphs" fill="#000" stroke="#000" stroke-width="0.55">трансформатор (TCTR)</text>
<text x="448.3" y="729.3" font-size="8" font-weight="bold" textLength="116.3" lengthAdjust="spacingAndGlyphs" fill="#000" stroke="#000" stroke-width="0.55">Автоматический выключатель</text>
<text x="455.4" y="739.4" font-size="8" font-weight="bold" textLength="102.9" lengthAdjust="spacingAndGlyphs" fill="#000" stroke="#000" stroke-width="0.55">на фазу, т. е. Q0_A; Q0_B;</text>
<text x="495.5" y="748.3" font-size="8" font-weight="bold" textLength="20.8" lengthAdjust="spacingAndGlyphs" fill="#000" stroke="#000" stroke-width="0.55">Q0_C</text>
<text x="136.7" y="766.2" font-size="8" font-weight="bold" textLength="43.6" lengthAdjust="spacingAndGlyphs" fill="#000" stroke="#000" stroke-width="0.55">Удаленный</text>
<text x="126.2" y="775.9" font-size="8" font-weight="bold" textLength="61.1" lengthAdjust="spacingAndGlyphs" fill="#000" stroke="#000" stroke-width="0.55">трансформатор</text>
<text x="134.2" y="784.6" font-size="8" font-weight="bold" textLength="45.4" lengthAdjust="spacingAndGlyphs" fill="#000" stroke="#000" stroke-width="0.55">напряжения</text>
<text x="254.0" y="766.4" font-size="8" font-weight="bold" textLength="41.9" lengthAdjust="spacingAndGlyphs" fill="#000" stroke="#000" stroke-width="0.55">Локальный</text>
<text x="245.0" y="776.1" font-size="8" font-weight="bold" textLength="60.5" lengthAdjust="spacingAndGlyphs" fill="#000" stroke="#000" stroke-width="0.55">измерительный</text>
<text x="243.8" y="784.6" font-size="8" font-weight="bold" textLength="62.2" lengthAdjust="spacingAndGlyphs" fill="#000" stroke="#000" stroke-width="0.55">трансформатор</text>
<text x="383.3" y="766.4" font-size="8" font-weight="bold" textLength="62.7" lengthAdjust="spacingAndGlyphs" fill="#000" stroke="#000" stroke-width="0.55">Автоматический</text>
<text x="389.4" y="776.1" font-size="8" font-weight="bold" textLength="50.8" lengthAdjust="spacingAndGlyphs" fill="#000" stroke="#000" stroke-width="0.55">выключатель</text>
<text x="59.2" y="806.2" font-size="9.4" font-weight="normal" textLength="511.3" lengthAdjust="spacingAndGlyphs" fill="#3a3a3a">Рисунок 12 — Пример функционально взаимодействующих LN (локального и удаленного) для комплексной</text>
<text x="134.0" y="816.7" font-size="9.4" font-weight="normal" textLength="362.0" lengthAdjust="spacingAndGlyphs" fill="#3a3a3a">функции, например переключения по точке на кривой — вид на архитектуру</text>
<text x="571.0" y="838.8" font-size="10" font-weight="normal" textLength="10.7" lengthAdjust="spacingAndGlyphs" fill="#333">31</text>
</svg>
</body></html>
